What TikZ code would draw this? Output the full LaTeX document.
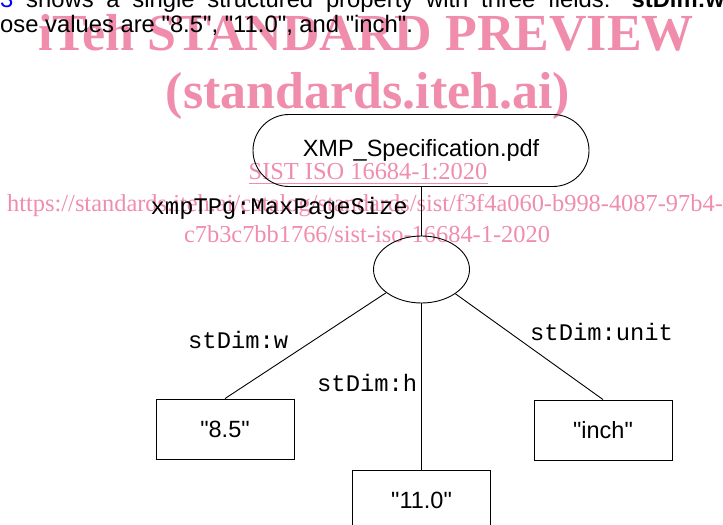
\documentclass[tikz,border=0pt]{standalone}
\usepackage{fontspec}
\setmainfont{Liberation Sans}[Ligatures=TeXOff]
\newfontfamily\monofam{Liberation Mono}
\newfontfamily\wmfam{Liberation Serif}
\usetikzlibrary{shapes.geometric,shapes.misc}
\definecolor{wmpink}{RGB}{240,141,172}
\definecolor{linkblue}{RGB}{0,0,255}
\tikzset{
  body/.style={inner sep=0pt,font=\fontsize{23.8bp}{28bp}\selectfont},
  wmbig/.style={inner sep=0pt,text=wmpink,font=\wmfam\bfseries\fontsize{52bp}{60bp}\selectfont},
  wmsmall/.style={inner sep=0pt,text=wmpink,font=\wmfam\fontsize{24.4bp}{30bp}\selectfont},
  wmrule/.style={draw=wmpink,line width=1.2bp},
  stadium/.style={rounded rectangle,draw,line width=0.9bp,minimum width=336bp,
    minimum height=72bp,inner sep=0pt,font=\fontsize{23.5bp}{28bp}\selectfont},
  structnode/.style={ellipse,draw,line width=0.9bp,minimum width=96bp,
    minimum height=67bp,inner sep=0pt},
  valbox/.style={rectangle,draw,line width=0.9bp,minimum width=138bp,
    minimum height=60bp,inner sep=0pt,font=\fontsize{23.5bp}{28bp}\selectfont},
  proplabel/.style={inner sep=0pt,font=\monofam\fontsize{23.8bp}{28bp}\selectfont},
  edge/.style={draw,line width=0.9bp}
}
\begin{document}
\begin{tikzpicture}[x=1bp,y=-1bp]
\useasboundingbox (0,0) rectangle (723,525);

% preview watermark, laid down first so the page content sits on it
\node[wmbig,anchor=base] (wm1) at (366,51) {iTeh STANDARD PREVIEW};
\node[wmbig,anchor=base] (wm2) at (368,109) {(standards.iteh.ai)};
\node[wmsmall,anchor=base] (sist) at (368,180) {SIST ISO 16684-1:2020};
\draw[wmrule] ([yshift=-3.5bp]sist.base west) -- ([yshift=-3.5bp]sist.base east);
\node[wmsmall,anchor=base] (url1) at (365,212)
  {https://standards.iteh.ai/catalog/standards/sist/f3f4a060-b998-4087-97b4-};
\node[wmsmall,anchor=base] (url2) at (367,243)
  {c7b3c7bb1766/sist-iso-16684-1-2020};

% running text of the page
\node[body,anchor=base west] (line1) at (0,8)
  {\makebox[724bp][s]{\textcolor{linkblue}{3} shows a single structured property with three fields: \textbf{stDim:w}}};
\node[body,anchor=base west] (line2) at (0,33)
  {ose values are "8.5", "11.0", and "inch".};

% the structured property tree
\node[stadium] (file) at (421,150.5) {XMP\_Specification.pdf};
\node[structnode] (dim) at (421.5,269.5) {};
\node[valbox] (valw) at (225,429) {"8.5"};
\node[valbox] (valh) at (421.5,500) {"11.0"};
\node[valbox] (valu) at (603,430) {"inch"};

\draw[edge] (dim.north |- file.south) -- (dim.north);
\draw[edge] (dim) -- (valw.north);
\draw[edge] (dim.south) -- (valh.north);
\draw[edge] (dim) -- (valu.north);

\node[proplabel,anchor=base east] (lmax) at (408,215) {xmpTPg:MaxPageSize};
\node[proplabel,anchor=base west] (lw) at (188,348) {stDim:w};
\node[proplabel,anchor=base west] (lh) at (317,391) {stDim:h};
\node[proplabel,anchor=base west] (lu) at (530,340) {stDim:unit};
\end{tikzpicture}
\end{document}
